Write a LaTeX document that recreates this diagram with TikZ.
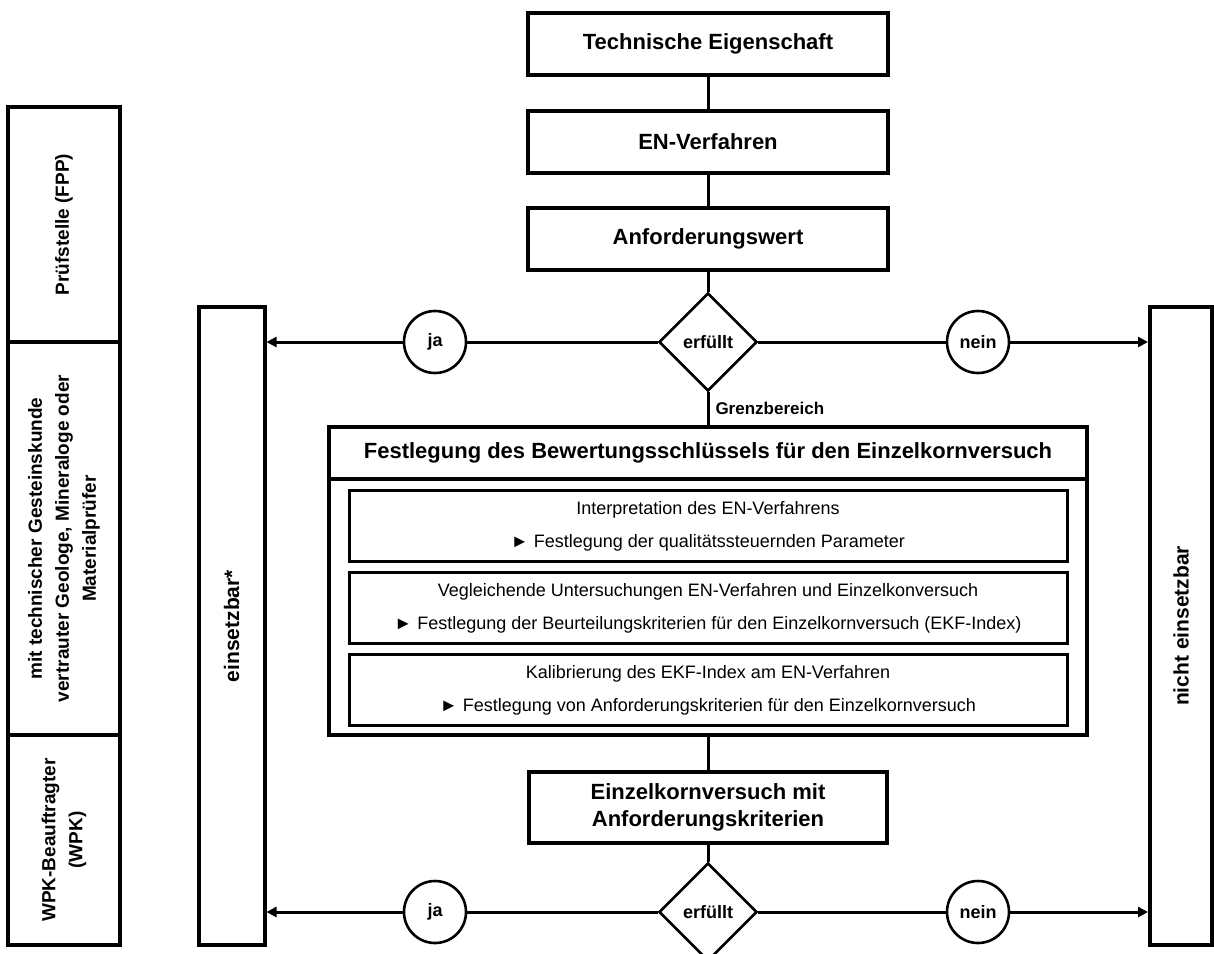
\documentclass[tikz,border=0pt]{standalone}
\usepackage{fontspec}
\setmainfont{Liberation Sans}
\usetikzlibrary{arrows.meta,shapes.geometric}

\begin{document}
\begin{tikzpicture}[
    x=0.5pt, y=-0.5pt,
    box/.style={
      rectangle,
      draw=black,
      line width=2pt,
      minimum width=180pt,
      minimum height=31pt,
      inner sep=0pt,
      align=center,
      font=\fontsize{11}{13.5}\selectfont\bfseries
    },
    subbox/.style={
      rectangle,
      draw=black,
      line width=1.5pt,
      minimum width=359pt,
      minimum height=35.5pt,
      inner sep=0pt,
      align=center,
      font=\fontsize{9}{16.5}\selectfont
    },
    decision/.style={
      diamond,
      draw=black,
      fill=white,
      line width=1.3pt,
      minimum width=49pt,
      minimum height=49pt,
      inner sep=0pt,
      font=\fontsize{9}{11}\selectfont\bfseries
    },
    answer/.style={
      circle,
      draw=black,
      fill=white,
      line width=1.3pt,
      minimum size=31pt,
      inner sep=0pt,
      font=\fontsize{9}{11}\selectfont\bfseries
    },
    sidebar/.style={
      rectangle,
      draw=black,
      line width=2pt,
      minimum width=33pt,
      minimum height=319pt,
      inner sep=0pt,
      font=\fontsize{10.5}{12}\selectfont\bfseries
    },
    legend/.style={
      rectangle,
      draw=black,
      line width=2.4pt,
      rotate=90,
      minimum height=56pt,
      inner sep=0pt,
      align=center,
      font=\fontsize{9.5}{13.5}\selectfont\bfseries
    },
    link/.style={
      draw=black,
      line width=1.5pt
    },
    arrowlink/.style={
      -{Triangle[length=5pt,width=5pt]},
      draw=black,
      line width=1.5pt
    }
  ]
    \useasboundingbox (0,0) rectangle (1214,953);

    % responsibilities
    \node[legend, minimum width=117.5pt] (fpp) at (64,224.5) {Prüfstelle (FPP)};
    \node[legend, minimum width=196.5pt] (geo) at (64,538.5)
      {mit technischer Gesteinskunde\\vertrauter Geologe, Mineraloge oder\\Materialprüfer};
    \node[legend, minimum width=105pt] (wpk) at (64,840) {WPK-Beauftragter\\(WPK)};

    % outcomes
    \node[sidebar] (usable) at (231.5,626) {\rotatebox{90}{einsetzbar*}};
    \node[sidebar, minimum width=31pt] (unusable) at (1181,626) {\rotatebox{90}{nicht einsetzbar}};

    % main flow
    \node[box] (prop) at (708,43.5) {Technische Eigenschaft};
    \node[box] (en) at (708,141.5) {EN-Verfahren};
    \node[box] (req) at (708,239) {Anforderungswert};
    \node[decision] (dec1) at (708,342) {erfüllt};
    \node[answer] (yes1) at (435,342) {ja};
    \node[answer] (no1) at (978,342) {nein};

    \node[box, minimum width=379pt, minimum height=154pt] (key) at (708,581) {};
    \node[box, minimum width=379pt, minimum height=26pt] (keytitle) at (708,453)
      {Festlegung des Bewertungsschlüssels für den Einzelkornversuch};
    \node[subbox] (part1) at (708,526)
      {Interpretation des EN-Verfahrens\\► Festlegung der qualitätssteuernden Parameter};
    \node[subbox] (part2) at (708,608)
      {Vegleichende Untersuchungen EN-Verfahren und Einzelkonversuch\\► Festlegung der Beurteilungskriterien für den Einzelkornversuch (EKF-Index)};
    \node[subbox] (part3) at (708,690)
      {Kalibrierung des EKF-Index am EN-Verfahren\\► Festlegung von Anforderungskriterien für den Einzelkornversuch};

    \node[box, minimum width=179pt, minimum height=35.5pt] (single) at (708,807.5)
      {Einzelkornversuch mit\\Anforderungskriterien};
    \node[decision] (dec2) at (708,912) {erfüllt};
    \node[answer] (yes2) at (435,912) {ja};
    \node[answer] (no2) at (978,912) {nein};

    \draw[link] (prop) -- (en);
    \draw[link] (en) -- (req);
    \draw[link] (req) -- (dec1);
    \draw[link] (dec1) -- (yes1);
    \draw[arrowlink] (yes1) -- (yes1 -| usable.east);
    \draw[link] (dec1) -- (no1);
    \draw[arrowlink] (no1) -- (no1 -| unusable.west);
    \draw[link] (dec1) -- node[right, inner sep=3pt, font=\fontsize{8.5}{10}\selectfont\bfseries] {Grenzbereich} (keytitle);
    \draw[link] (key) -- (single);
    \draw[link] (single) -- (dec2);
    \draw[link] (dec2) -- (yes2);
    \draw[arrowlink] (yes2) -- (yes2 -| usable.east);
    \draw[link] (dec2) -- (no2);
    \draw[arrowlink] (no2) -- (no2 -| unusable.west);
  \end{tikzpicture}
\end{document}
